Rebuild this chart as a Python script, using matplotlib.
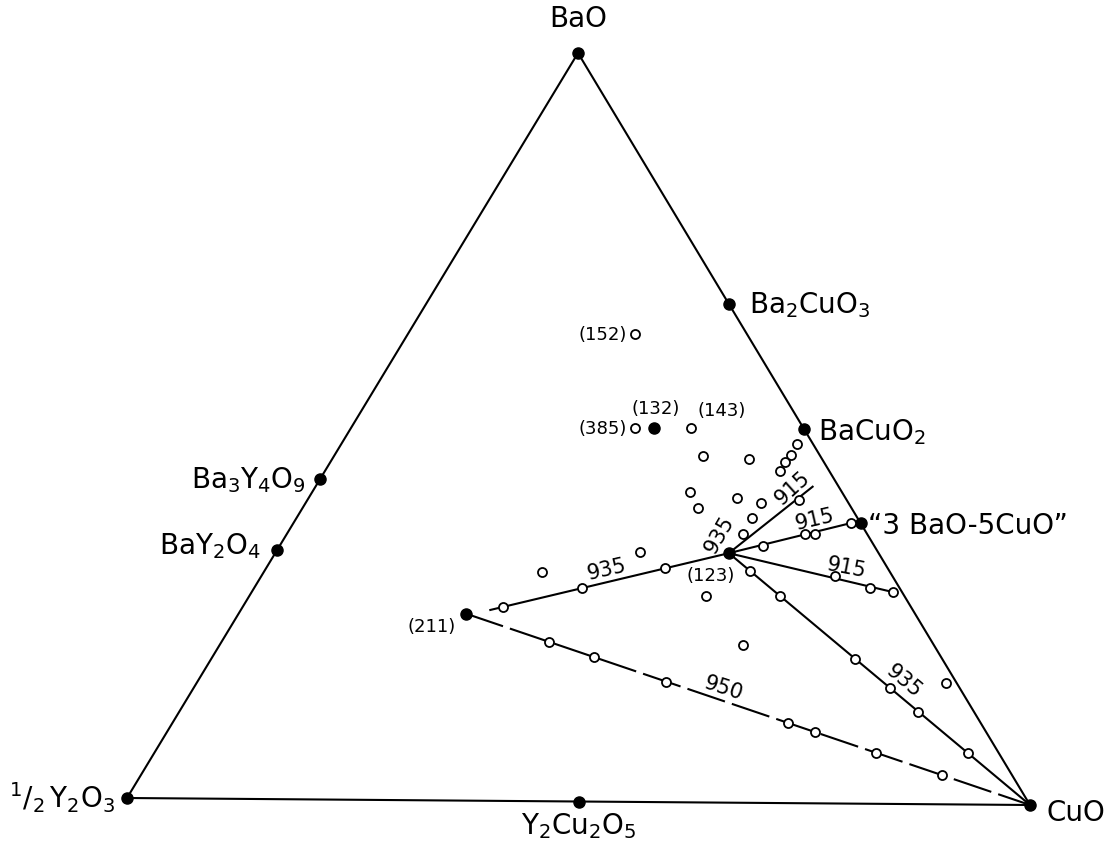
import matplotlib
matplotlib.use("Agg")
import matplotlib.pyplot as plt
import numpy as np

plt.rcParams["font.family"] = ["DejaVu Sans"]
plt.rcParams["mathtext.default"] = "regular"

# ---------------------------------------------------------------- data
# end members / binary compounds, molar amounts of BaO, YO1.5, CuO
compound_names = ["BaO", r"$^1/_2\,$Y$_2$O$_3$", "CuO", r"Ba$_2$CuO$_3$", r"BaCuO$_2$",
                  "\u201c3 BaO-5CuO\u201d", r"Ba$_3$Y$_4$O$_9$", r"BaY$_2$O$_4$", r"Y$_2$Cu$_2$O$_5$"]
compound_ba = [1, 0, 0, 2, 1, 3, 3, 1, 0]
compound_y = [0, 1, 0, 0, 0, 0, 4, 2, 2]
compound_cu = [0, 0, 1, 1, 1, 5, 0, 0, 2]

# ternary phases, labelled by Y:Ba:Cu
phase_labels = ["(123)", "(211)", "(132)"]
phase_y = [1, 2, 1]
phase_ba = [2, 1, 3]
phase_cu = [3, 1, 2]

# other nominal compositions examined, labelled by Y:Ba:Cu
extra_labels = ["(152)", "(385)", "(143)"]
extra_y = [1, 3, 1]
extra_ba = [5, 8, 4]
extra_cu = [2, 5, 3]

# unlabelled sample compositions (mole fractions of BaO and YO1.5)
sample_ba = [0.463, 0.459, 0.480, 0.465, 0.456, 0.444, 0.415, 0.407, 0.401, 0.393,
             0.381, 0.359, 0.405, 0.343, 0.360, 0.360, 0.375, 0.304, 0.288, 0.283,
             0.310, 0.277, 0.193, 0.155, 0.123, 0.069, 0.162, 0.211, 0.276, 0.334,
             0.306, 0.259, 0.285, 0.313,
             0.213, 0.193, 0.161, 0.107, 0.095, 0.068, 0.039]
sample_y = [0.130, 0.081, 0.018, 0.032, 0.043, 0.055, 0.169, 0.121, 0.097, 0.171,
            0.117, 0.138, 0.053, 0.124, 0.069, 0.058, 0.010, 0.064, 0.033, 0.010,
            0.155, 0.138, 0.097, 0.077, 0.062, 0.034, 0.012, 0.212, 0.221, 0.265,
            0.387, 0.454, 0.353, 0.248,
            0.426, 0.386, 0.322, 0.214, 0.190, 0.136, 0.078]

# tie lines from (123), end compositions (BaO, YO1.5) and temperature labels
tie_end_ba = [0.255, 0.423, 0.375, 0.283, 0.0]
tie_end_y = [0.470, 0.029, 0.010, 0.010, 0.0]
tie_temps = ["935", "915", "915", "915", "935"]
# (211) - CuO join
join_temp = "950"
# label at the (123) corner
corner_temp = "935"

# ---------------------------------------------------------------- layout
V_BA = (578.0, 53.0)
V_Y = (127.0, 798.0)
V_CU = (1030.0, 805.0)


def frac(ba, y, cu):
    ba, y, cu = (np.asarray(v, float) for v in (ba, y, cu))
    s = ba + y + cu
    return ba / s, y / s


def to_xy(ba, y):
    ba = np.asarray(ba, float)
    y = np.asarray(y, float)
    cu = 1.0 - ba - y
    x = ba * V_BA[0] + y * V_Y[0] + cu * V_CU[0]
    yy = ba * V_BA[1] + y * V_Y[1] + cu * V_CU[1]
    return x, yy


fig = plt.figure(figsize=(11.06, 8.43), dpi=100)
ax = fig.add_axes([0, 0, 1, 1])
ax.set_xlim(0, 1106)
ax.set_ylim(843, 0)
ax.axis("off")

# triangle frame
tx, ty = to_xy([1, 0, 0, 1], [0, 1, 0, 0])
ax.plot(tx, ty, color="black", lw=1.5, zorder=2)

# compounds
cb, cy = frac(compound_ba, compound_y, compound_cu)
cx, cyy = to_xy(cb, cy)
ax.plot(cx, cyy, "o", color="black", ms=8, zorder=5)

# ternary phases
pb, py = frac(phase_ba, phase_y, phase_cu)
px, pyy = to_xy(pb, py)
ax.plot(px, pyy, "o", color="black", ms=8, zorder=5)

# tie lines from (123)
for eb, ey in zip(tie_end_ba, tie_end_y):
    lx, ly = to_xy([pb[0], eb], [py[0], ey])
    ax.plot(lx, ly, color="black", lw=1.5, zorder=3)

# dashed (211)-CuO join
jx, jy = to_xy([pb[1], 0.0], [py[1], 0.0])
ax.plot(jx, jy, color="black", lw=1.5, dashes=(19, 3.5), zorder=3)

# open sample points
eb_, ey_ = frac(extra_ba, extra_y, extra_cu)
ex, eyy = to_xy(eb_, ey_)
sx, syy = to_xy(sample_ba, sample_y)
ax.plot(np.r_[sx, ex], np.r_[syy, eyy], "o", ms=6.5, mfc="white", mec="black",
        mew=1.3, zorder=6)

# compound labels
big = 20
offsets = [(0, 20, "center", "bottom"), (-12, -10, "right", "baseline"),
           (16, -16, "left", "baseline"), (20, -10, "left", "baseline"),
           (14, -11, "left", "baseline"), (7, -11, "left", "baseline"),
           (-14, -9, "right", "baseline"), (-16, -5, "right", "baseline"),
           (0, -33, "center", "baseline")]
for name, x0, y0, (ox, oy, ha, va) in zip(compound_names, cx, cyy, offsets):
    ax.annotate(name, (x0, y0), xytext=(ox, oy), textcoords="offset pixels",
                ha=ha, va=va, fontsize=big)

small = 13
phase_off = [(-18, -28, "center", "baseline"), (-10, -19, "right", "baseline"),
             (2, 14, "center", "baseline")]
for name, x0, y0, (ox, oy, ha, va) in zip(phase_labels, px, pyy, phase_off):
    ax.annotate(name, (x0, y0), xytext=(ox, oy), textcoords="offset pixels",
                ha=ha, va=va, fontsize=small)
extra_off = [(-8, -6, "right", "baseline"), (-8, -6, "right", "baseline"),
             (6, 12, "left", "baseline")]
for name, x0, y0, (ox, oy, ha, va) in zip(extra_labels, ex, eyy, extra_off):
    ax.annotate(name, (x0, y0), xytext=(ox, oy), textcoords="offset pixels",
                ha=ha, va=va, fontsize=small)

# temperature labels along the tie lines
temp_size = 15
temp_pos = [(0.50, 13, 12), (0.85, 42, 12), (0.72, 13, 12), (0.70, -11, 13), (0.55, -40, 14)]
for (eb, ey), t, (f, rot, off) in zip(zip(tie_end_ba, tie_end_y), tie_temps, temp_pos):
    mb = pb[0] + f * (eb - pb[0])
    my = py[0] + f * (ey - py[0])
    mx, myy = to_xy(mb, my)
    ang = np.deg2rad(rot)
    ax.annotate(t, (mx, myy), xytext=(-off * np.sin(ang), off * np.cos(ang)),
                textcoords="offset pixels", ha="center", va="center",
                rotation=rot, rotation_mode="anchor", fontsize=temp_size)

mb = pb[1] * 0.55
my = py[1] * 0.55
mx, myy = to_xy(mb, my)
ang = np.deg2rad(-18)
ax.annotate(join_temp, (mx, myy), xytext=(-12 * np.sin(ang), 12 * np.cos(ang)),
            textcoords="offset pixels", ha="center", va="center",
            rotation=-18, rotation_mode="anchor", fontsize=temp_size)

ax.annotate(corner_temp, (px[0], pyy[0]), xytext=(-9, 18), textcoords="offset pixels",
            ha="center", va="center", rotation=60, rotation_mode="anchor",
            fontsize=temp_size)

fig.savefig("out.png", dpi=100, facecolor="white")
